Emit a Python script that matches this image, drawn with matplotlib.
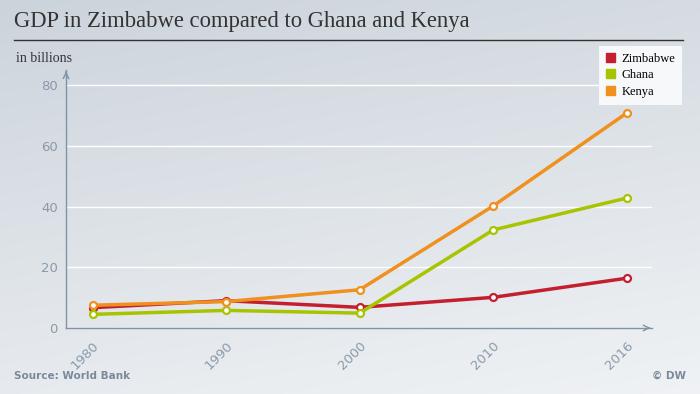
import matplotlib.pyplot as plt
import numpy as np
from matplotlib.patches import Patch

years = ['1980', '1990', '2000', '2010', '2016']
zimbabwe = [6.7, 9.0, 6.8, 10.1, 16.4]
ghana = [4.5, 5.8, 4.9, 32.3, 42.8]
kenya = [7.5, 8.7, 12.6, 40.2, 70.8]

series = [('Zimbabwe', zimbabwe, '#c41f2e'),
          ('Ghana', ghana, '#a8c400'),
          ('Kenya', kenya, '#f0901e')]

W, H = 700, 394
fig = plt.figure(figsize=(W / 100, H / 100), dpi=100)

# background gradient
bg = fig.add_axes([0, 0, 1, 1])
gy, gx = np.mgrid[0:1:200j, 0:1:200j]
t = np.clip(0.75 * gy + 0.25 * gx, 0, 1)
top = np.array([0.80, 0.83, 0.86])
bot = np.array([0.94, 0.95, 0.96])
img = top[None, None, :] * (1 - t[..., None]) + bot[None, None, :] * t[..., None]
bg.imshow(img, extent=(0, 1, 0, 1), aspect='auto', origin='upper')
bg.axis('off')

fig.text(14 / W, 1 - 21 / H, 'GDP in Zimbabwe compared to Ghana and Kenya',
         family='Liberation Serif', fontsize=16.3, color='#333333', va='center')
fig.add_artist(plt.Line2D([14 / W, 683 / W], [1 - 40 / H, 1 - 40 / H],
                          color='#333333', lw=1))
fig.text(16 / W, 1 - 58 / H, 'in billions', family='Liberation Serif',
         fontsize=10, color='#333333', va='center')
fig.text(14 / W, 1 - 376 / H, 'Source: World Bank', fontsize=7.5,
         fontweight='bold', color='#7a8a9a', va='center')
fig.text(686 / W, 1 - 376 / H, '© DW', fontsize=7.5, fontweight='bold',
         color='#7a8a9a', va='center', ha='right')

axc = '#7f93a6'
ax = fig.add_axes([66 / W, 66 / H, 586 / W, 258 / H])
ax.patch.set_alpha(0)
x = np.arange(len(years))
for name, vals, col in series:
    ax.plot(x, vals, color=col, lw=2.5, marker='o', ms=5, mfc='white',
            mec=col, mew=1.6, label=name, zorder=3)

ax.set_xlim(-0.2, 4.19)
ax.set_ylim(0, 85)
ax.set_yticks([0, 20, 40, 60, 80])
ax.grid(axis='y', color='white', lw=1)
ax.set_axisbelow(True)
ax.set_xticks(x)
ax.set_xticklabels(years, rotation=45, ha='right', rotation_mode='anchor')
ax.tick_params(length=0, colors='#8a9aaa', labelsize=9.5)
ax.tick_params(axis='x', pad=8)
ax.tick_params(axis='y', pad=6)
for s in ['top', 'right']:
    ax.spines[s].set_visible(False)
for s in ['left', 'bottom']:
    ax.spines[s].set_color(axc)
    ax.spines[s].set_linewidth(1)
ax.annotate('', xy=(1.002, 0), xytext=(0.99, 0), xycoords='axes fraction',
            arrowprops=dict(arrowstyle='->', color=axc, lw=1))
ax.annotate('', xy=(0, 1.005), xytext=(0, 0.98), xycoords='axes fraction',
            arrowprops=dict(arrowstyle='->', color=axc, lw=1))

ax.legend(handles=[Patch(color=c, label=n) for n, _, c in series],
          loc='upper left', bbox_to_anchor=(599 / W, 1 - 46 / H),
          bbox_transform=fig.transFigure, frameon=True, fancybox=False,
          prop={'family': 'Liberation Serif', 'size': 9},
          handlelength=0.75, handleheight=0.75, handletextpad=0.5,
          labelspacing=0.35, borderpad=0.55, borderaxespad=0, framealpha=1,
          facecolor='#f7f8fa', edgecolor='none')

fig.savefig('out.png', dpi=100)
